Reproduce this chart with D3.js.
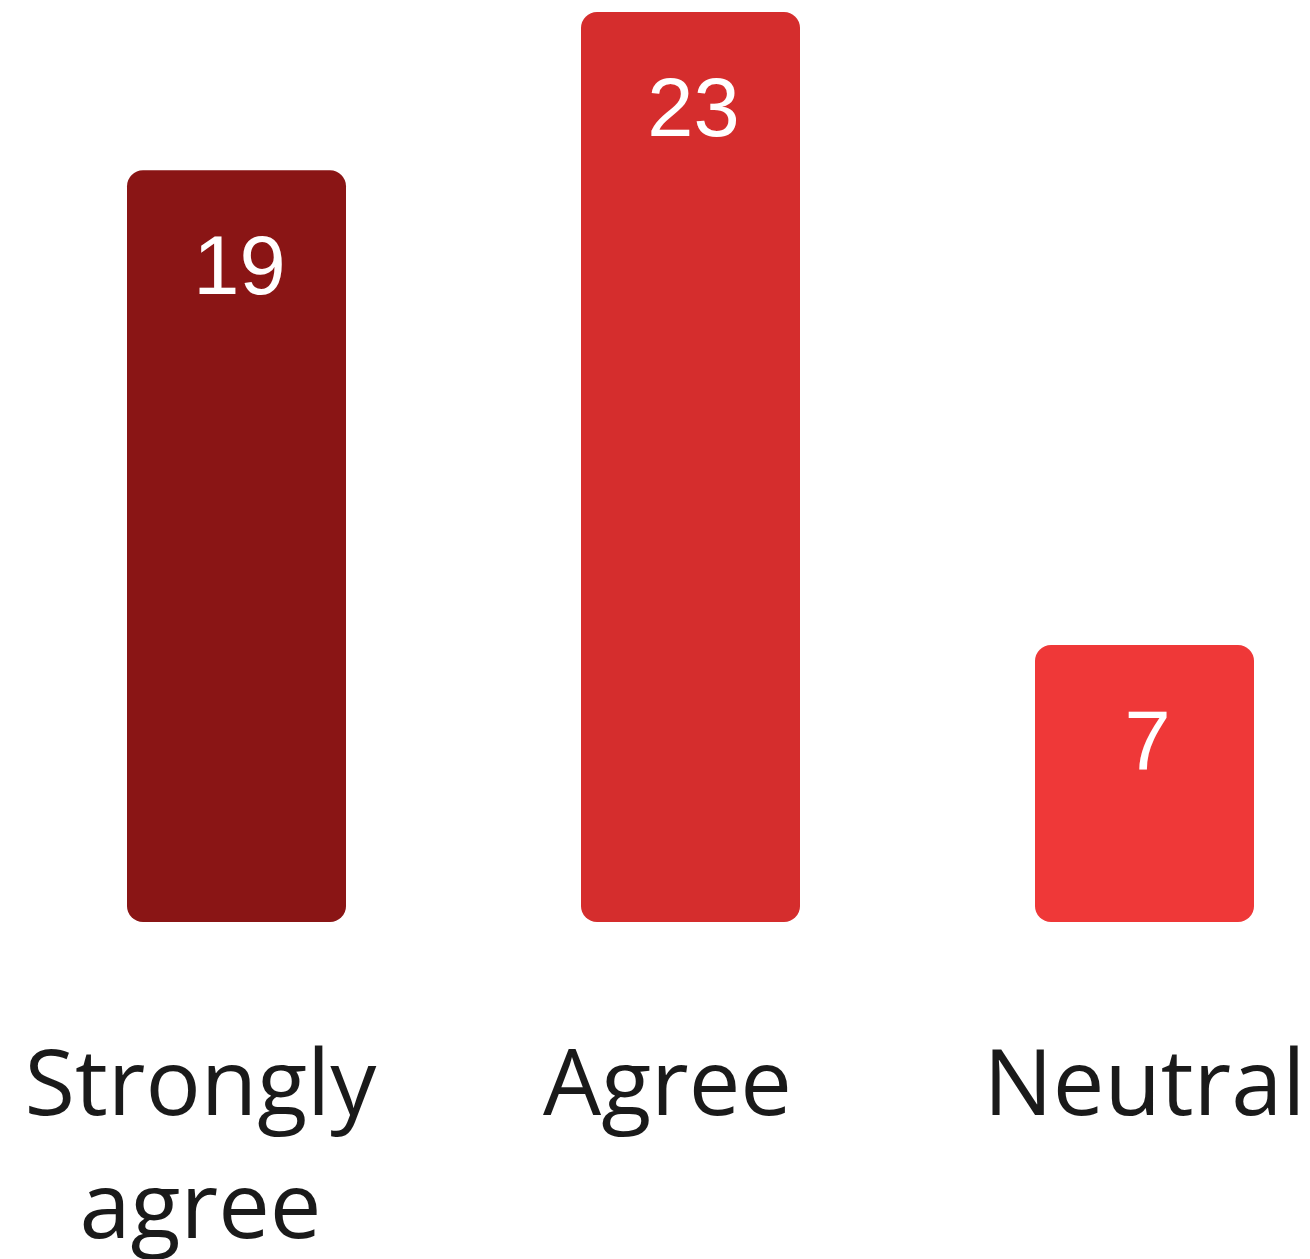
<!DOCTYPE html>
<html><head><meta charset="utf-8">
<script src="https://cdn.jsdelivr.net/npm/d3@7"></script>
<style>html,body{margin:0;padding:0;background:#fff;}</style>
</head><body>
<svg id="chart" width="1310" height="1259"></svg>
<script>
const categories = ["Strongly agree", "Agree", "Neutral"];
const values = [19, 23, 7];
const barColors = ["#8a1515", "#d52d2d", "#ef3838"];

const svg = d3.select("#chart");
const x = d3.scaleBand().domain(categories).range([127, 1035 + 219]).paddingInner(235/454).paddingOuter(0);
const y = d3.scaleLinear().domain([0, 23]).range([922, 12]);

const g = svg.append("g");
g.selectAll("rect.bar").data(values).join("rect")
  .attr("class", "bar")
  .attr("x", (d, i) => x(categories[i]))
  .attr("y", d => y(d))
  .attr("width", x.bandwidth())
  .attr("height", d => y(0) - y(d))
  .attr("rx", 16).attr("ry", 16)
  .attr("fill", (d, i) => barColors[i]);

g.selectAll("text.val").data(values).join("text")
  .attr("class", "val")
  .attr("x", (d, i) => x(categories[i]) + x.bandwidth() / 2 + 3)
  .attr("y", d => y(d) + 124)
  .attr("text-anchor", "middle")
  .attr("font-family", "Liberation Sans, Arial, sans-serif")
  .attr("font-size", 83)
  .attr("fill", "#ffffff")
  .text(d => d);

const labelShift = [-36, -23, 0];
const labels = g.selectAll("text.cat").data(categories).join("text")
  .attr("class", "cat")
  .attr("x", (d, i) => x(d) + x.bandwidth() / 2 + labelShift[i])
  .attr("y", 1115)
  .attr("text-anchor", "middle")
  .attr("font-family", "Open Sans, sans-serif")
  .attr("font-size", 92)
  .attr("fill", "#1a1a1a");
labels.each(function(d) {
  const words = d.split(" ");
  const t = d3.select(this);
  const cx = t.attr("x");
  words.forEach((w, j) => {
    t.append("tspan").attr("x", cx).attr("dy", j === 0 ? 0 : 123).text(w);
  });
});
</script>
</body></html>
